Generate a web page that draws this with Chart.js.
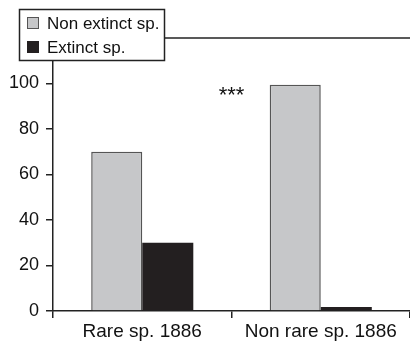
<!DOCTYPE html>
<html>
<head>
<meta charset="utf-8">
<script src="https://cdn.jsdelivr.net/npm/chart.js@4/dist/chart.umd.min.js"></script>
<style>
  html, body { margin: 0; padding: 0; background: #fff; }
</style>
</head>
<body>
<canvas id="c" width="410" height="345"></canvas>
<script>
  // categories and series (percent of species)
  const categories = ['Rare sp. 1886', 'Non rare sp. 1886'];
  const seriesNames = ['Non extinct sp.', 'Extinct sp.'];
  const nonExtinct = [70, 99.5];
  const extinct = [30, 1.8];
  const yTicks = [0, 20, 40, 60, 80, 100];
  const sigLabel = '***';

  const GREY = '#c6c7c9';
  const BLACK = '#231f20';
  const INK = '#222';
  const FONT = { family: 'Liberation Sans', size: 18 };

  // top frame line, significance stars, boxed legend over the top-left corner
  const extras = {
    id: 'extras',
    afterDraw(chart) {
      const ctx = chart.ctx, a = chart.chartArea;
      const x = chart.scales.x, y = chart.scales.y;
      ctx.save();
      ctx.strokeStyle = INK;
      ctx.lineWidth = 1.5;
      ctx.beginPath();
      ctx.moveTo(a.left, a.top);
      ctx.lineTo(a.right, a.top);
      ctx.stroke();

      ctx.fillStyle = '#111';
      ctx.font = '22px "Liberation Sans"';
      ctx.textAlign = 'center';
      ctx.textBaseline = 'alphabetic';
      const mid = (x.getPixelForValue(0) + x.getPixelForValue(1)) / 2;
      ctx.fillText(sigLabel, mid, y.getPixelForValue(92));

      // legend
      ctx.fillStyle = '#fff';
      ctx.fillRect(19, 9, 146, 52);
      ctx.strokeRect(19.5, 9.5, 145, 51);
      const sw = [[GREY, '#555'], [BLACK, BLACK]];
      ctx.font = '17px "Liberation Sans"';
      ctx.textAlign = 'left';
      ctx.textBaseline = 'middle';
      seriesNames.forEach(function (name, i) {
        const cy = 23 + i * 24;
        ctx.fillStyle = sw[i][0];
        ctx.fillRect(27, cy - 6, 12, 12);
        ctx.strokeStyle = sw[i][1];
        ctx.lineWidth = 1;
        ctx.strokeRect(27.5, cy - 5.5, 11, 11);
        ctx.fillStyle = '#111';
        ctx.fillText(name, 47, cy + 1);
      });
      ctx.restore();
    }
  };

  new Chart(document.getElementById('c'), {
    type: 'bar',
    data: {
      labels: categories,
      datasets: [
        { label: seriesNames[0], data: nonExtinct, backgroundColor: GREY, borderColor: '#555', borderWidth: 1.5 },
        { label: seriesNames[1], data: extinct, backgroundColor: BLACK, borderColor: BLACK, borderWidth: 0 }
      ]
    },
    options: {
      responsive: false,
      animation: false,
      devicePixelRatio: 1,
      layout: { padding: { top: 38, right: 0, left: 0, bottom: 0 } },
      datasets: { bar: { barPercentage: 1, categoryPercentage: 0.572 } },
      plugins: { legend: { display: false }, tooltip: { enabled: false } },
      scales: {
        x: {
          offset: true,
          afterFit: function (s) { s.height = 34; },
          grid: { offset: true, drawOnChartArea: false, drawTicks: true, tickLength: 7, color: INK, lineWidth: 1.5 },
          border: { display: true, color: INK, width: 1.5 },
          ticks: { color: '#111', font: { family: 'Liberation Sans', size: 19 }, padding: 2 }
        },
        y: {
          min: 0,
          max: 120,
          afterFit: function (s) { s.width = 53; },
          afterBuildTicks: function (s) { s.ticks = yTicks.map(function (v) { return { value: v }; }); },
          grid: { drawOnChartArea: false, drawTicks: true, tickLength: 7, color: INK, lineWidth: 1.5 },
          border: { display: true, color: INK, width: 1.5 },
          ticks: { color: '#111', font: FONT, padding: 7 }
        }
      }
    },
    plugins: [extras]
  });
</script>
</body>
</html>
